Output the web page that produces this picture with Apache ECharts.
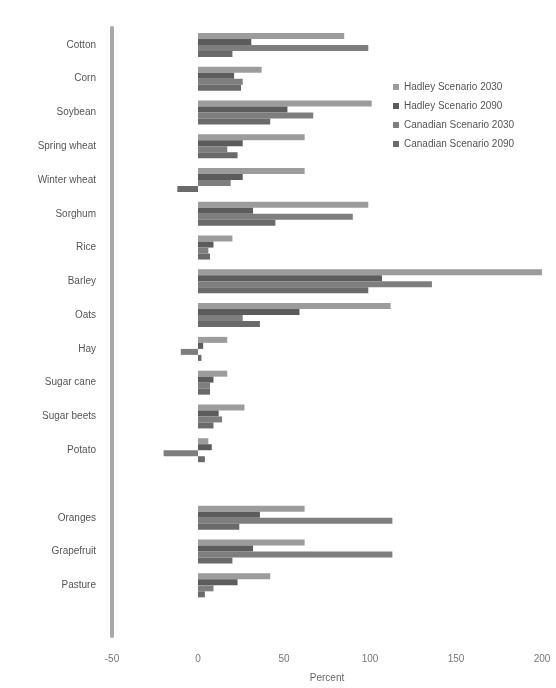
<!DOCTYPE html>
<html>
<head>
<meta charset="utf-8">
<script src="https://cdn.jsdelivr.net/npm/echarts@6/dist/echarts.min.js"></script>
<style>
html,body{margin:0;padding:0;background:#fff;}
#chart{width:556px;height:688px;}
</style>
</head>
<body>
<div id="chart"></div>
<script>
var categories = ['Cotton','Corn','Soybean','Spring wheat','Winter wheat','Sorghum','Rice','Barley','Oats','Hay','Sugar cane','Sugar beets','Potato','','Oranges','Grapefruit','Pasture',' '];
var seriesNames = ['Hadley Scenario 2030','Hadley Scenario 2090','Canadian Scenario 2030','Canadian Scenario 2090'];
var hadley2030   = [85, 37, 101, 62, 62, 99, 20, 200, 112, 17, 17, 27, 6, null, 62, 62, 42, null];
var hadley2090   = [31, 21, 52, 26, 26, 32, 9, 107, 59, 3, 9, 12, 8, null, 36, 32, 23, null];
var canadian2030 = [99, 26, 67, 17, 19, 90, 6, 136, 26, -10, 7, 14, -20, null, 113, 113, 9, null];
var canadian2090 = [20, 25, 42, 23, -12, 45, 7, 99, 36, 2, 7, 9, 4, null, 24, 20, 4, null];
var xTicks = [-50, 0, 50, 100, 150, 200];

var colors = ['#9c9c9c', '#5c5c5c', '#7e7e7e', '#6a6a6a'];
var values = [hadley2030, hadley2090, canadian2030, canadian2090];

var chart = echarts.init(document.getElementById('chart'));
chart.setOption({
  backgroundColor: '#fff',
  textStyle: {fontFamily: 'Liberation Sans, Arial, sans-serif'},
  grid: {left: 112, right: 14, top: 28, height: 610},
  legend: {
    orient: 'vertical', left: 388, top: 77, itemGap: 9,
    itemWidth: 6, itemHeight: 6, icon: 'rect',
    textStyle: {color: '#555', fontSize: 10},
    data: seriesNames
  },
  xAxis: {
    type: 'value', min: xTicks[0], max: xTicks[xTicks.length - 1], interval: 50,
    axisLine: {show: false}, axisTick: {show: false}, splitLine: {show: false},
    axisLabel: {color: '#777', fontSize: 10, margin: 18},
    name: 'Percent', nameLocation: 'middle', nameGap: 37,
    nameTextStyle: {color: '#666', fontSize: 10}
  },
  yAxis: {
    type: 'category', inverse: true, data: categories,
    axisLine: {show: true, onZero: false, lineStyle: {color: '#a8a8a8', width: 4}},
    axisTick: {show: false},
    axisLabel: {color: '#555', fontSize: 10, margin: 16}
  },
  series: seriesNames.map(function (n, i) {
    return {
      name: n, type: 'bar', data: values[i],
      barWidth: 6, barGap: '0%',
      itemStyle: {color: colors[i]},
      animation: false
    };
  })
});
</script>
</body>
</html>
